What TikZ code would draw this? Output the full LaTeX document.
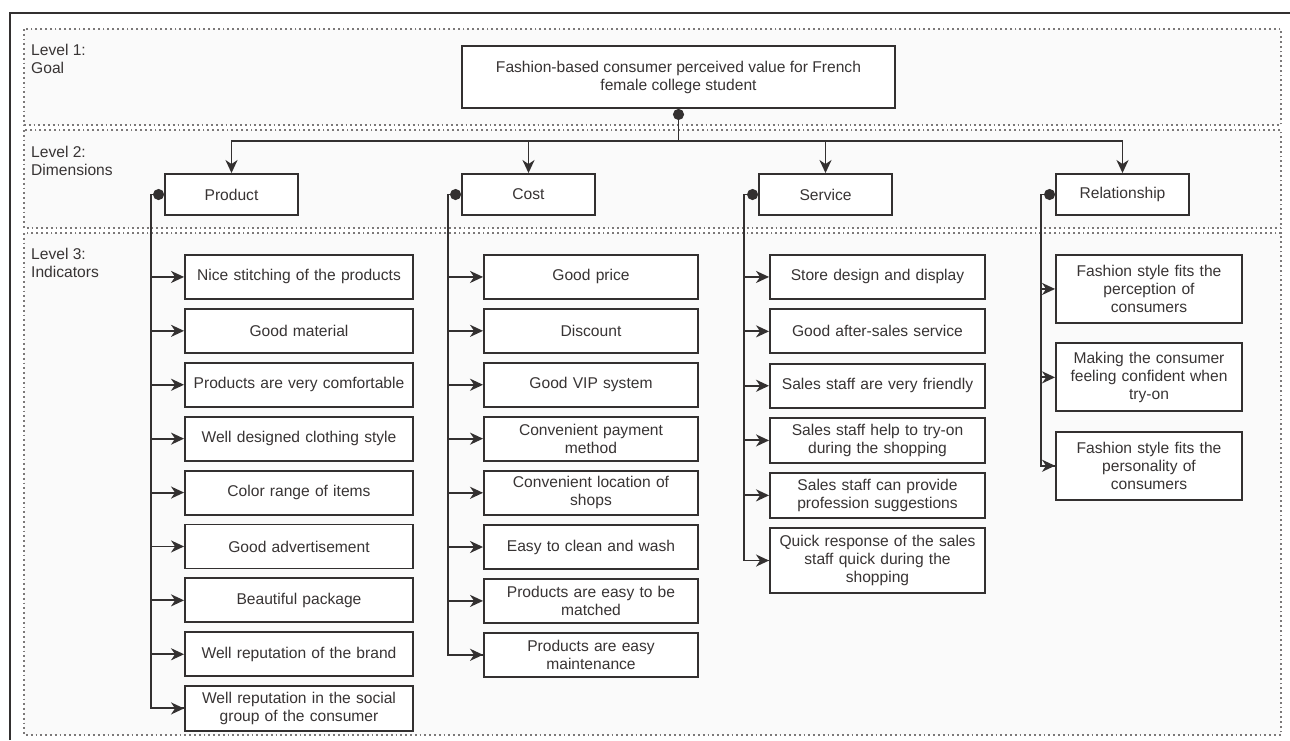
\documentclass[tikz,border=0pt]{standalone}
\usepackage{fontspec}
\setmainfont{Liberation Sans}
\usetikzlibrary{
    arrows.meta,
    positioning
}
\definecolor{linegray}{HTML}{333030}
\definecolor{textgray}{HTML}{383434}
\definecolor{dotgray}{HTML}{7C7979}
\definecolor{bandfill}{HTML}{FAFAFA}

\begin{document}
\begin{tikzpicture}[
    x=1pt, y=-1pt,
    node distance=8pt,
    >={Stealth[length=13pt, width=12pt, inset=4pt]},
    band/.style={
        draw=dotgray,
        line width=1.8pt,
        dash pattern=on 1.8pt off 3pt,
        fill=bandfill
    },
    level/.style={
        anchor=north west,
        align=left,
        inner sep=0pt,
        text=textgray,
        font=\fontsize{15.6}{18}\selectfont
    },
    goalbox/.style={
        draw=linegray,
        line width=1.9pt,
        fill=white,
        align=center,
        text=textgray,
        minimum width=433pt,
        minimum height=62pt,
        font=\fontsize{15.6}{18}\selectfont
    },
    dimbox/.style={
        draw=linegray,
        line width=1.9pt,
        fill=white,
        text=textgray,
        minimum width=133pt,
        minimum height=41pt,
        font=\fontsize{15.6}{18}\selectfont
    },
    indicator/.style={
        draw=linegray,
        line width=1.9pt,
        fill=white,
        align=center,
        text=textgray,
        inner xsep=4pt,
        inner ysep=6pt,
        minimum height=44pt,
        font=\fontsize{15.6}{18}\selectfont
    },
    prodbox/.style={indicator, text width=220pt},
    costbox/.style={indicator, text width=206pt},
    servbox/.style={indicator, text width=207pt},
    relbox/.style={indicator, text width=178pt, minimum height=68pt},
    flow/.style={
        ->,
        line width=1.9pt,
        draw=linegray
    },
    root/.style={
        {Circle[length=11pt]}-,
        line width=1.9pt,
        draw=linegray
    }
]

\useasboundingbox (0,0) rectangle (1290,740);
\fill[white] (0,0) rectangle (1290,740);
\draw[linegray, line width=1.5pt] (10,740) -- (10,13) -- (1290,13);

\draw[band] (24,29) rectangle (1281,125);
\draw[band] (24,130) rectangle (1281,228);
\draw[band] (24,233) rectangle (1281,735);

\node[level] (lvl1) at (31,44) {Level 1:\\Goal};
\node[level] (lvl2) at (31,146) {Level 2:\\Dimensions};
\node[level] (lvl3) at (31,248) {Level 3:\\Indicators};

\node[goalbox] (goal) at (678.5,77)
    {Fashion-based consumer perceived value for French\\female college student};

\node[dimbox] (product) at (231.5,194.5) {Product};
\node[dimbox] (cost) at (528.5,194.5) {Cost};
\node[dimbox] (service) at (825.5,194.5) {Service};
\node[dimbox] (relationship) at (1122.5,194.5) {Relationship};

\node[prodbox, anchor=north] (p1) at (299,254) {Nice stitching of the products};
\node[prodbox, below=of p1] (p2) {Good material};
\node[prodbox, below=of p2] (p3) {Products are very comfortable};
\node[prodbox, below=of p3] (p4) {Well designed clothing style};
\node[prodbox, below=of p4] (p5) {Color range of items};
\node[prodbox, below=of p5] (p6) {Good advertisement};
\node[prodbox, below=of p6] (p7) {Beautiful package};
\node[prodbox, below=of p7] (p8) {Well reputation of the brand};
\node[prodbox, below=of p8] (p9)
    {Well reputation in the social\\group of the consumer};

\node[costbox, anchor=north] (c1) at (591,254) {Good price};
\node[costbox, below=of c1] (c2) {Discount};
\node[costbox, below=of c2] (c3) {Good VIP system};
\node[costbox, below=of c3] (c4) {Convenient payment\\method};
\node[costbox, below=of c4] (c5) {Convenient location of\\shops};
\node[costbox, below=of c5] (c6) {Easy to clean and wash};
\node[costbox, below=of c6] (c7) {Products are easy to be\\matched};
\node[costbox, below=of c7] (c8) {Products are easy\\maintenance};

\node[servbox, anchor=north] (s1) at (877.5,254) {Store design and display};
\node[servbox, below=8.5pt of s1] (s2) {Good after-sales service};
\node[servbox, below=8.5pt of s2] (s3) {Sales staff are very friendly};
\node[servbox, below=8.5pt of s3] (s4) {Sales staff help to try-on\\during the shopping};
\node[servbox, below=8.5pt of s4] (s5) {Sales staff can provide\\profession suggestions};
\node[servbox, below=8.5pt of s5, minimum height=65pt] (s6)
    {Quick response of the sales\\staff quick during the\\shopping};

\node[relbox, anchor=north] (r1) at (1149,254)
    {Fashion style fits the\\perception of\\consumers};
\node[relbox, below=18.5pt of r1] (r2)
    {Making the consumer\\feeling confident when\\try-on};
\node[relbox, below=18.5pt of r2] (r3)
    {Fashion style fits the\\personality of\\consumers};

\coordinate (bus) at (678.5,141);
\draw[root] (goal.south) -- (bus);
\draw[flow] (bus) -| (product);
\draw[flow] (bus) -| (cost);
\draw[flow] (bus) -| (service);
\draw[flow] (bus) -| (relationship);

\coordinate (ptrunk) at ([xshift=-13pt]product.west);
\draw[root] (product.west) -- (ptrunk) |- (p9);
\draw[flow] (ptrunk |- p1) -- (p1);
\draw[flow] (ptrunk |- p2) -- (p2);
\draw[flow] (ptrunk |- p3) -- (p3);
\draw[flow] (ptrunk |- p4) -- (p4);
\draw[flow] (ptrunk |- p5) -- (p5);
\draw[flow] (ptrunk |- p6) -- (p6);
\draw[flow] (ptrunk |- p7) -- (p7);
\draw[flow] (ptrunk |- p8) -- (p8);
\draw[flow] (ptrunk |- p9) -- (p9);

\coordinate (ctrunk) at ([xshift=-13pt]cost.west);
\draw[root] (cost.west) -- (ctrunk) |- (c8);
\draw[flow] (ctrunk |- c1) -- (c1);
\draw[flow] (ctrunk |- c2) -- (c2);
\draw[flow] (ctrunk |- c3) -- (c3);
\draw[flow] (ctrunk |- c4) -- (c4);
\draw[flow] (ctrunk |- c5) -- (c5);
\draw[flow] (ctrunk |- c6) -- (c6);
\draw[flow] (ctrunk |- c7) -- (c7);
\draw[flow] (ctrunk |- c8) -- (c8);

\coordinate (strunk) at ([xshift=-14pt]service.west);
\draw[root] (service.west) -- (strunk) |- (s6);
\draw[flow] (strunk |- s1) -- (s1);
\draw[flow] (strunk |- s2) -- (s2);
\draw[flow] (strunk |- s3) -- (s3);
\draw[flow] (strunk |- s4) -- (s4);
\draw[flow] (strunk |- s5) -- (s5);
\draw[flow] (strunk |- s6) -- (s6);

\coordinate (rtrunk) at ([xshift=-14pt]relationship.west);
\draw[root] (relationship.west) -- (rtrunk) |- (r3);
\draw[flow] (rtrunk |- r1) -- (r1);
\draw[flow] (rtrunk |- r2) -- (r2);
\draw[flow] (rtrunk |- r3) -- (r3);

\end{tikzpicture}
\end{document}
